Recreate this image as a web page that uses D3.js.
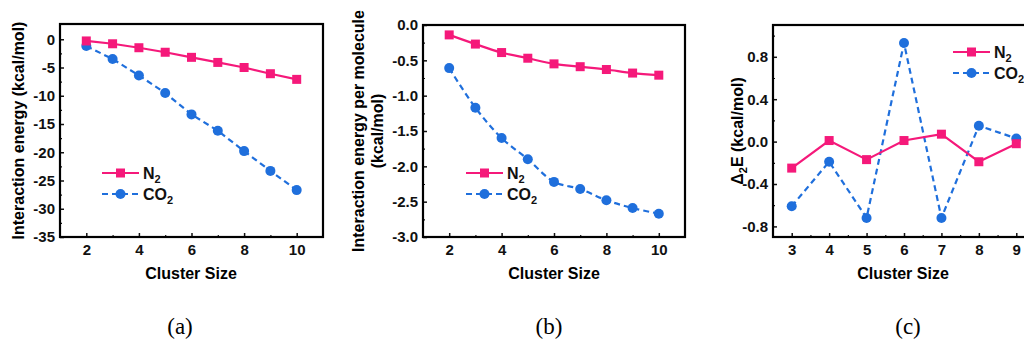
<!DOCTYPE html>
<html>
<head>
<meta charset="utf-8">
<script src="https://cdn.jsdelivr.net/npm/d3@7"></script>
<style>
  body { margin: 0; background: #fff; }
  svg { display: block; }
  .tick text { font-family: "Liberation Sans", Arial, sans-serif; font-weight: bold; font-size: 15px; fill: #111; }
</style>
</head>
<body>
<svg id="chart"></svg>
<script>
const svg_width = 1024;
const svg_height = 344;

// data
const sizesAB = [2, 3, 4, 5, 6, 7, 8, 9, 10];
const energyN2 = [-0.3, -0.8, -1.5, -2.3, -3.2, -4.1, -5.0, -6.1, -7.1];
const energyCO2 = [-1.2, -3.5, -6.4, -9.5, -13.3, -16.2, -19.8, -23.3, -26.7];

const perMolN2 = [-0.14, -0.27, -0.39, -0.47, -0.55, -0.59, -0.63, -0.68, -0.71];
const perMolCO2 = [-0.61, -1.17, -1.60, -1.90, -2.22, -2.32, -2.48, -2.59, -2.67];

const sizesC = [3, 4, 5, 6, 7, 8, 9];
const deltaN2 = [-0.25, 0.01, -0.17, 0.01, 0.07, -0.19, -0.02];
const deltaCO2 = [-0.61, -0.19, -0.72, 0.93, -0.72, 0.15, 0.03];

const ticksA = [0, -5, -10, -15, -20, -25, -30, -35];
const ticksB = [0, -0.5, -1, -1.5, -2, -2.5, -3];
const ticksC = [0.8, 0.4, 0, -0.4, -0.8];

const pink = "#f5197a";
const blue = "#1f6fdc";
const font = '"Liberation Sans", Arial, sans-serif';

var svg = d3.select("svg#chart")
    .attr("width", svg_width)
    .attr("height", svg_height);

var panels = [
  {
    box: {left: 60, top: 24, right: 323, bottom: 237},
    xDomain: [1, 11], yDomain: [-35, 2.7],
    xTicks: [2, 4, 6, 8, 10], xMinor: [3, 5, 7, 9],
    yTicks: ticksA, yMinor: d3.range(-32.5, 2, 5),
    yFormat: d3.format("d"),
    x: sizesAB, n2: energyN2, co2: energyCO2, curve: d3.curveLinear,
    yTitle: ["Interaction energy (kcal/mol)"], yTitleX: [18],
    legend: {x: 102, y: 173},
    label: "(a)", labelX: 180, titleX: 191
  },
  {
    box: {left: 423, top: 25, right: 685, bottom: 237},
    xDomain: [1, 11], yDomain: [-3, 0],
    xTicks: [2, 4, 6, 8, 10], xMinor: [3, 5, 7, 9],
    yTicks: ticksB, yMinor: d3.range(-2.75, 0, 0.5),
    yFormat: d3.format(".1f"),
    x: sizesAB, n2: perMolN2, co2: perMolCO2, curve: d3.curveCatmullRom,
    yTitle: ["Interaction energy per molecule", "(kcal/mol)"], yTitleX: [358, 377],
    legend: {x: 466, y: 173},
    label: "(b)", labelX: 549, titleX: 554
  },
  {
    box: {left: 773, top: 25, right: 1035, bottom: 237},
    xDomain: [2.5, 9.5], yDomain: [-0.9, 1.1],
    xTicks: sizesC, xMinor: d3.range(3.5, 9, 1),
    yTicks: ticksC, yMinor: [1.0, 0.6, 0.2, -0.2, -0.6],
    yFormat: d3.format(".1f"),
    x: sizesC, n2: deltaN2, co2: deltaCO2, curve: d3.curveLinear,
    yTitle: null, yTitleX: [737],
    legend: {x: 953, y: 52},
    label: "(c)", labelX: 908, titleX: 903
  }
];

panels.forEach(draw_panel);

function draw_panel(p) {
  var b = p.box;
  var xScale = d3.scaleLinear().domain(p.xDomain).range([b.left, b.right]);
  var yScale = d3.scaleLinear().domain(p.yDomain).range([b.bottom, b.top]);

  var g = svg.append("g");

  // x axis: inward ticks
  var xAxis = d3.axisBottom(xScale).tickValues(p.xTicks).tickFormat(d3.format("d"))
      .tickSizeInner(-4).tickSizeOuter(0).tickPadding(7);
  var gx = g.append("g").attr("transform", "translate(0," + b.bottom + ")").call(xAxis);
  gx.select(".domain").remove();
  gx.selectAll(".tick line").attr("stroke", "#111").attr("stroke-width", 1.5);

  g.append("g").attr("transform", "translate(0," + b.bottom + ")")
    .call(d3.axisBottom(xScale).tickValues(p.xMinor).tickSizeInner(-2).tickSizeOuter(0).tickFormat(""))
    .call(s => s.select(".domain").remove())
    .selectAll(".tick line").attr("stroke", "#111").attr("stroke-width", 1.2);

  var yAxis = d3.axisLeft(yScale).tickValues(p.yTicks).tickSizeInner(-4).tickSizeOuter(0).tickPadding(5).tickFormat(p.yFormat);
  var gy = g.append("g").attr("transform", "translate(" + b.left + ",0)").call(yAxis);
  gy.select(".domain").remove();
  gy.selectAll(".tick line").attr("stroke", "#111").attr("stroke-width", 1.5);
  gy.selectAll(".tick text").text(d => p.yFormat(d).replace("−", "-"));

  g.append("g").attr("transform", "translate(" + b.left + ",0)")
    .call(d3.axisLeft(yScale).tickValues(p.yMinor).tickSizeInner(-2).tickSizeOuter(0).tickFormat(""))
    .call(s => s.select(".domain").remove())
    .selectAll(".tick line").attr("stroke", "#111").attr("stroke-width", 1.2);

  // frame
  g.append("rect")
    .attr("x", b.left).attr("y", b.top)
    .attr("width", b.right - b.left).attr("height", b.bottom - b.top)
    .attr("fill", "none").attr("stroke", "#000").attr("stroke-width", 2.2);

  var pts = (ys) => p.x.map((x, i) => [x, ys[i]]);
  var line = d3.line().x(d => xScale(d[0])).y(d => yScale(d[1])).curve(p.curve);

  g.append("path").datum(pts(p.co2))
    .attr("d", line).attr("fill", "none")
    .attr("stroke", blue).attr("stroke-width", 2.2).attr("stroke-dasharray", "6,4");
  g.selectAll(".co2").data(pts(p.co2)).enter().append("circle")
    .attr("cx", d => xScale(d[0])).attr("cy", d => yScale(d[1]))
    .attr("r", 5).attr("fill", blue);

  g.append("path").datum(pts(p.n2))
    .attr("d", line).attr("fill", "none")
    .attr("stroke", pink).attr("stroke-width", 2.2);
  g.selectAll(".n2").data(pts(p.n2)).enter().append("rect")
    .attr("x", d => xScale(d[0]) - 4.5).attr("y", d => yScale(d[1]) - 4.5)
    .attr("width", 9).attr("height", 9).attr("fill", pink);

  // x title
  g.append("text")
    .attr("x", p.titleX)
    .attr("y", 279)
    .attr("text-anchor", "middle")
    .style("font-family", font).style("font-weight", "bold").style("font-size", "16px")
    .text("Cluster Size");

  // y title
  if (p.yTitle) {
    p.yTitle.forEach((t, i) => {
      g.append("text")
        .attr("transform", "translate(" + (p.yTitleX[i] + 6) + "," + ((b.top + b.bottom) / 2) + ") rotate(-90)")
        .attr("text-anchor", "middle")
        .style("font-family", font).style("font-weight", "bold").style("font-size", "16px")
        .text(t);
    });
  } else {
    var t = g.append("text")
      .attr("transform", "translate(" + (p.yTitleX[0] + 6) + "," + ((b.top + b.bottom) / 2) + ") rotate(-90)")
      .attr("text-anchor", "middle")
      .style("font-family", font).style("font-weight", "bold").style("font-size", "16px");
    t.append("tspan").text("Δ");
    t.append("tspan").text("2").attr("dy", 4).style("font-size", "11px");
    t.append("tspan").text("E (kcal/mol)").attr("dy", -4);
  }

  // legend
  var L = p.legend;
  var lg = g.append("g").attr("transform", "translate(" + L.x + "," + L.y + ")");
  lg.append("line").attr("x1", 0).attr("x2", 37).attr("y1", 0).attr("y2", 0)
    .attr("stroke", pink).attr("stroke-width", 2.2);
  lg.append("rect").attr("x", 14).attr("y", -4.5).attr("width", 9).attr("height", 9).attr("fill", pink);
  lg.append("line").attr("x1", 0).attr("x2", 37).attr("y1", 21).attr("y2", 21)
    .attr("stroke", blue).attr("stroke-width", 2.2).attr("stroke-dasharray", "6,4");
  lg.append("circle").attr("cx", 18.5).attr("cy", 21).attr("r", 5).attr("fill", blue);

  [["N", 0], ["CO", 21]].forEach(([name, dy]) => {
    var tx = lg.append("text").attr("x", 41).attr("y", dy + 5.5)
      .style("font-family", font).style("font-weight", "bold").style("font-size", "16px").attr("fill", "#111");
    tx.append("tspan").text(name);
    tx.append("tspan").text("2").attr("dy", 4).style("font-size", "11px");
  });

  // panel label
  svg.append("text")
    .attr("x", p.labelX).attr("y", 334)
    .attr("text-anchor", "middle")
    .style("font-family", '"Liberation Serif", "Times New Roman", serif').style("font-size", "23px")
    .text(p.label);
}
</script>
</body>
</html>
